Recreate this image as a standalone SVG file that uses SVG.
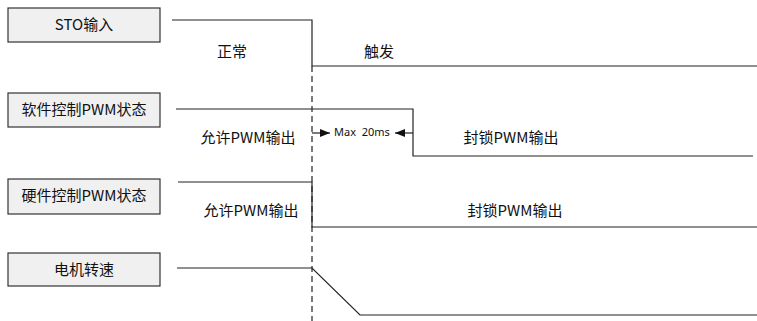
<svg xmlns="http://www.w3.org/2000/svg" width="757" height="321" viewBox="0 0 757 321">
<style>
.box{fill:#f0f0f0;stroke:#333;stroke-width:1.2}
.t{font-family:"Noto Sans CJK SC","Noto Sans",sans-serif;font-size:15px;fill:#111;text-anchor:middle}
.s{font-family:"Noto Sans","DejaVu Sans",sans-serif;font-size:11px;fill:#111;white-space:pre}
.w{fill:none;stroke:#222;stroke-width:1.2}
.d{fill:none;stroke:#222;stroke-width:1.2;stroke-dasharray:6 4}
</style>
<defs>
<marker id="ah" viewBox="0 0 10 8" refX="10" refY="4" markerWidth="10" markerHeight="8" markerUnits="userSpaceOnUse" orient="auto">
<path d="M0,0 L10,4 L0,8 z" fill="#111"/>
</marker>
</defs>
<g id="n1"><rect class="box" x="8" y="8" width="152" height="34"/><text class="t" x="84" y="30">STO输入</text></g>
<g id="n2"><rect class="box" x="8" y="93" width="152" height="34"/><text class="t" x="84" y="115">软件控制PWM状态</text></g>
<g id="n3"><rect class="box" x="8" y="179" width="152" height="35"/><text class="t" x="84" y="201">硬件控制PWM状态</text></g>
<g id="n4"><rect class="box" x="8" y="253" width="152" height="33"/><text class="t" x="84" y="275">电机转速</text></g>
<g id="connectors">
<path class="d" d="M312,66 V321"/>
<path class="w" d="M172,20 H312 V66 H757"/>
<path class="w" d="M176,109 H413 V156 H753"/>
<path class="w" d="M178,182 H312 V227 H757"/>
<path class="w" d="M177,268 H312 L360,315 H757"/>
<path class="w" d="M312,133 H330" marker-end="url(#ah)"/>
<path class="w" d="M413,133 H395" marker-end="url(#ah)"/>
</g>
<g id="labels">
<text class="t" x="232" y="57">正常</text>
<text class="t" x="379" y="57">触发</text>
<text class="t" x="248" y="143">允许PWM输出</text>
<text class="s" x="334" y="136" xml:space="preserve">Max  20ms</text>
<text class="t" x="511" y="143">封锁PWM输出</text>
<text class="t" x="251" y="216">允许PWM输出</text>
<text class="t" x="515" y="216">封锁PWM输出</text>
</g>
</svg>
